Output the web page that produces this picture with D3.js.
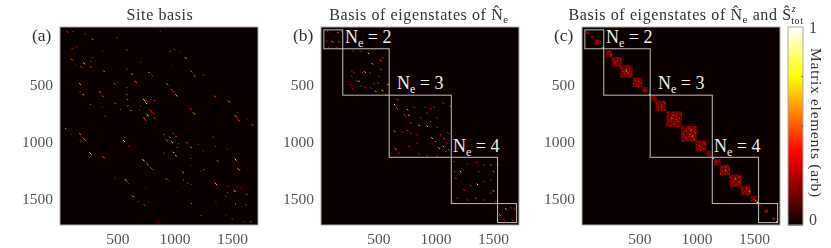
<!doctype html>
<html lang="en">
<head>
<meta charset="utf-8">
<title>Matrix elements</title>
<script src="https://d3js.org/d3.v7.min.js"></script>
<style>
    html, body { margin: 0; padding: 0; background: #fff; }
    svg { display: block; filter: blur(0.45px); font-family: "Liberation Serif", serif; }
    .tick text { font-family: "Liberation Serif", serif; font-size: 15.5px; fill: #555; }
    .axis path { display: none; }
    .title { font-size: 16px; letter-spacing: .6px; fill: #333; text-anchor: middle; }
    .panelTag { font-size: 17.5px; fill: #333; }
    .ne { font-size: 18px; fill: #eee; }
    .frame { fill: none; stroke: #aaa; stroke-width: 1; }
    .sector { fill: none; stroke: #bbb; stroke-width: 1; }
</style>
</head>
<body>
<svg width="831" height="248"></svg>
<script>
// panel (a): site basis, short streaks along the diagonal direction
var aCols = [58,110,218,278,493,870,102,139,368,580,957,992,1044,1090,96,278,203,267,139,180,261,702,980,377,580,620,774,797,1137,1166,1247,168,84,470,499,652,925,965,1006,580,168,197,342,368,580,586,763,1343,1467,725,745,821,261,476,522,365,583,615,702,690,391,754,783,725,740,797,818,1131,1160,1525,1549,1551,1630,1676,46,93,168,197,174,551,592,905,954,986,1006,922,971,1032,1102,1137,1200,1334,1354,1456,1247,1021,905,986,1006,255,371,719,754,783,1140,1140,1369,1525,1554,1549,1638,1067,1224,1253,476,922,951,563,595,1073,1108,1143,1349,1462,1543,1572,1517,1459,1624,1444,632,740,1021,679,766,731,1143,1357,1528,1618,1580,1230,1444,1502,855,1607,1659];
var aRows = [35,35,58,102,88,35,184,169,207,196,210,190,213,263,277,263,310,295,330,342,342,304,336,380,362,403,394,415,380,418,415,490,490,490,479,470,490,540,587,526,558,584,561,599,587,628,604,599,642,628,657,637,672,660,715,695,686,724,686,718,777,759,721,788,806,739,788,707,745,768,747,806,800,850,885,934,926,964,993,987,1034,934,958,926,949,978,999,1016,1007,1045,1019,958,1040,1063,1077,1051,1095,1089,1118,1092,1127,1153,1188,1220,1145,1206,1162,1150,1177,1232,1241,1261,1255,1241,1317,1320,1337,1326,1361,1329,1358,1372,1358,1387,1390,1407,1424,1442,1454,1472,1472,1399,1434,1521,1521,1548,1536,1527,1539,1548,1562,1644,1635,1673,1700,1697,1694];
var aSpans = [16,8,5,12,5,8,5,12,8,8,8,12,8,16,16,8,16,5,5,12,12,5,5,12,8,16,8,16,16,16,12,16,5,12,5,20,20,30,20,8,8,12,16,12,8,8,5,16,16,20,16,8,8,12,8,8,8,8,5,8,5,20,16,20,12,24,16,16,20,24,5,20,8,8,8,8,16,30,8,16,12,8,8,8,12,20,16,5,8,12,8,5,8,5,5,5,8,12,12,20,20,20,20,30,5,5,16,16,5,20,5,16,5,8,8,16,8,24,8,8,12,8,24,5,5,5,16,5,12,8,12,5,5,8,5,12,8,8,5,8,5,5,8,5,8,8,12];
var aLevels = [.4,.45,.6,.5,.6,.4,.55,.35,.35,.6,.5,.35,.35,.6,.5,.4,.7,.6,.5,.5,.5,.5,.35,.6,.5,.5,.7,.4,.5,.5,.4,.6,.3,.5,.6,.5,.5,.4,.6,.5,.4,.65,.5,.5,.7,.6,.4,.5,.6,.7,.7,.5,.5,.5,.5,.4,.65,.7,.6,.4,.7,.9,.5,.5,.5,.4,.5,.4,.6,.5,.6,.5,.4,.7,.7,.4,.5,.5,.6,.75,.4,.5,.7,.5,.5,.5,.7,.4,.7,.6,.5,.7,.4,.5,.5,.6,.5,.7,.7,.7,.5,.7,.5,.4,.6,.4,.5,.7,.5,.6,.4,.55,.6,.5,.4,.5,.4,.55,.4,.5,.4,.4,.6,.5,.4,.4,.7,.6,.5,.4,.7,.35,.4,.4,.4,.5,.5,.4,.9,.5,.4,.65,.4,.7,.4,.4,.5];

// panel (b): basis of eigenstates of Ne
var bCols = [55,143,172,93,44,64,131,151,276,340,410,530,442,515,262,282,378,358,515,262,326,306,253,346,378,500,579,457,492,268,471,530,559,579,422,428,661,637,655,748,719,762,733,806,899,952,981,1062,1126,922,1010,777,864,850,922,704,748,777,637,835,952,1010,1039,1068,1091,963,995,1024,1062,1083,646,675,829,850,922,1010,1112,762,1103,1155,1213,1161,1272,1353,1417,1475,1534,1374,1170,1301,1359,1417,1475,1499,1243,1184,1272,1344,1417,1499,1475,1141,1519,1609,1650,1685,1557,1592,1665,1694];
var bRows = [35,44,35,123,117,175,169,123,204,204,225,263,315,286,380,394,388,394,365,426,467,467,496,511,520,426,496,490,482,531,555,549,584,593,394,526,628,672,701,715,759,765,774,695,695,707,695,657,686,745,788,832,788,853,861,911,899,920,905,934,818,870,934,969,1007,964,993,1051,1037,1080,1060,1095,1007,1104,1115,1124,1066,1037,920,1168,1256,1256,1188,1177,1197,1197,1197,1256,1314,1378,1367,1343,1329,1256,1416,1489,1504,1489,1504,1425,1445,1518,1518,1583,1571,1583,1635,1679,1679,1591];
var bLevels = [.4,.6,.4,.7,.4,.4,.4,.5,.4,.4,.9,.4,.7,.5,.4,.4,.9,.4,.5,.4,.7,.5,.4,.4,.4,.4,.7,.4,.5,.4,.7,.7,.5,.6,.4,.4,.5,.7,.5,.7,.4,.9,.4,.4,.4,.4,.4,.5,.5,.4,.4,.5,.4,.7,.7,.4,.5,.4,.6,.4,.4,.4,.4,.5,.4,.95,.5,.7,.7,.5,.7,.4,.4,.4,.4,.4,.5,.4,.4,.4,.7,.4,.4,.4,.4,.5,.4,.4,.5,.4,.9,.4,.4,.5,.4,.4,.4,.5,.4,.7,.5,.4,.4,.7,.4,.4,.7,.4,.4,.4];

// panel (c): blocks along the diagonal, one digit per cell (tenths of full scale)
var cStarts = [38,80,110,176,207,262,335,443,525,584,603,644,737,865,991,1084,1139,1154,1203,1288,1387,1474,1524,1555,1594,1660,1695];
var cEnds = [62,96,152,188,259,344,440,525,571,596,650,731,871,1000,1084,1125,1151,1206,1291,1393,1469,1521,1536,1568,1622,1682,1708];
var cCells = [
    ["31","13"], ["2"], ["213","141","312"], ["7"], ["2141","1312","3114","1213"],
    ["102130","310213","021402","130121","203102","112031"],
    ["1021301","3102130","0214021","1305120","2031402","0120213","3102031"],
    ["201312","031021","120412","302103","013120","210312"],
    ["2130","0312","2041","1203"], ["8"], ["1302","3141","0213","2103"],
    ["102031","310213","021302","201412","130210","021303"],
    ["2010310201","0312021303","1021403102","3102013021","0215021031","2031204102","1302031420","0210301021","3102140210","1031021302"],
    ["0210312013","3102041021","1031205103","2014021031","0310213024","1302140210","3021031502","0140210321","2013021041","1302103120"],
    ["2031021","0213042","3120103","1041302","2103120","0312041","1203102"],
    ["2130","1312","3021","0213"], ["9"], ["2103","1421","0312","3120"],
    ["102031","031402","210213","130512","021031","310213"],
    ["1021302","3102041","0215102","2031203","1302140","0210312","2103021"],
    ["102031","310412","021203","203105","130213","021031"],
    ["2103","1312","0241","3125"], ["8"], ["2"], ["213","141","312"], ["31","14"], ["9"]
];
var blockFloor = .14;

// sector boxes and their labels
var sectorEdges = [25,190,595,1137,1541,1707];
var neNames = ["2","3","4"];
var neCols = [209,663,1152];
var neRows = [140,541,1091];

var matrixSize = 1728;
var axisTicks = [500,1000,1500];
var panelTags = ["(a)","(b)","(c)"];
var cbarTicks = [0,.25,.5,.75];

var panelLeft = [60,321,582];
var panelTop = 27, panelSize = 198;

// matlab style hot map
var hot = d3.scaleLinear()
    .domain([0,.365,.75,1])
    .range(["#0b0000","#ff0000","#ffff00","#ffffff"])
    .clamp(true);

var svg = d3.select("svg");
var scale = d3.scaleLinear().domain([0,matrixSize]).range([0,panelSize]);

var panels = svg.selectAll("g.panel")
    .data(panelLeft)
    .enter().append("g")
    .attr("class","panel")
    .attr("transform",function(d){ return "translate("+d+","+panelTop+")"; });

panels.append("rect")
    .attr("width",panelSize).attr("height",panelSize)
    .attr("fill",hot(0));

function drawStreaks(g, cols, rows, spans, levels) {
    g.selectAll("line.streak")
        .data(cols)
        .enter().append("line")
        .attr("class","streak")
        .attr("x1",function(d){ return scale(d); })
        .attr("y1",function(d,i){ return scale(rows[i]); })
        .attr("x2",function(d,i){ return scale(d+spans[i]); })
        .attr("y2",function(d,i){ return scale(rows[i]+spans[i]); })
        .attr("stroke",function(d,i){ return hot(levels[i]); })
        .attr("stroke-width",1);
}

drawStreaks(d3.select(panels.nodes()[0]), aCols, aRows, aSpans, aLevels);
drawStreaks(d3.select(panels.nodes()[1]), bCols, bRows, bCols.map(function(){ return 12; }), bLevels);

// blocks of panel c
var gc = d3.select(panels.nodes()[2]);
cCells.forEach(function(rowsOfCell, b) {
    var n = rowsOfCell.length;
    var cell = (cEnds[b]-cStarts[b])/n;
    rowsOfCell.forEach(function(str, j) {
        str.split("").forEach(function(ch, i) {
            gc.append("rect")
                .attr("x",scale(cStarts[b]+i*cell))
                .attr("y",scale(cStarts[b]+j*cell))
                .attr("width",scale(cell)+.1)
                .attr("height",scale(cell)+.1)
                .attr("fill",hot(Math.max(+ch/10,blockFloor)));
        });
    });
});

// sector boxes, panels b and c
[1,2].forEach(function(p) {
    var g = d3.select(panels.nodes()[p]);
    d3.pairs(sectorEdges).forEach(function(e) {
        g.append("rect").attr("class","sector")
            .attr("x",scale(e[0])).attr("y",scale(e[0]))
            .attr("width",scale(e[1]-e[0])).attr("height",scale(e[1]-e[0]));
    });
    neNames.forEach(function(name, i) {
        var t = g.append("text").attr("class","ne")
            .attr("x",scale(neCols[i])).attr("y",scale(neRows[i]));
        t.append("tspan").text("N");
        t.append("tspan").attr("dy",4).attr("font-size",12).text("e");
        t.append("tspan").attr("dy",-4).text(" = "+name);
    });
});

// frame and axes
panels.append("rect").attr("class","frame")
    .attr("width",panelSize).attr("height",panelSize);

panels.append("g").attr("class","axis")
    .attr("transform","translate(0,"+panelSize+")")
    .call(d3.axisBottom(scale).tickValues(axisTicks).tickSize(0).tickPadding(8).tickFormat(d3.format("d")));

panels.append("g").attr("class","axis")
    .call(d3.axisLeft(scale).tickValues(axisTicks).tickSize(0).tickPadding(7).tickFormat(d3.format("d")));

panels.append("text").attr("class","panelTag")
    .attr("x",-28).attr("y",14)
    .text(function(d,i){ return panelTags[i]; });

// titles
svg.append("text").attr("class","title").attr("x",160).attr("y",20).text("Site basis");

var t1 = svg.append("text").attr("class","title").attr("x",419).attr("y",20);
t1.append("tspan").text("Basis of eigenstates of N\u0302");
t1.append("tspan").attr("dy",3).attr("font-size",11).text("e");

var t2 = svg.append("text").attr("class","title").attr("x",686).attr("y",20);
t2.append("tspan").text("Basis of eigenstates of N\u0302");
t2.append("tspan").attr("dy",3).attr("font-size",11).text("e");
t2.append("tspan").attr("dy",-3).text(" and S\u0302");
t2.append("tspan").attr("dy",-8).attr("font-size",10).attr("font-style","italic").text("z");
t2.append("tspan").attr("dy",11.5).attr("dx",-5).attr("font-size",10).text("tot");

// colorbar
var cbarLeft = 788, cbarWidth = 15;
var cbarY = d3.scaleLinear().domain([0,1]).range([panelTop+panelSize,panelTop]);
var cbar = svg.append("g");
cbar.selectAll("rect")
    .data(d3.range(0,1,1/198))
    .enter().append("rect")
    .attr("x",cbarLeft)
    .attr("y",function(d){ return cbarY(d)-1; })
    .attr("width",cbarWidth).attr("height",1.5)
    .attr("fill",function(d){ return hot(d); });
cbar.append("rect").attr("class","frame")
    .attr("x",cbarLeft).attr("y",panelTop)
    .attr("width",cbarWidth).attr("height",panelSize);
cbar.selectAll("line")
    .data(cbarTicks.slice(1))
    .enter().append("line")
    .attr("x1",cbarLeft+cbarWidth-1.5).attr("x2",cbarLeft+cbarWidth)
    .attr("y1",function(d){ return cbarY(d); })
    .attr("y2",function(d){ return cbarY(d); })
    .attr("stroke","#555");
[0,1].forEach(function(v) {
    cbar.append("text").attr("x",809).attr("y",cbarY(v)+(v?6:0))
        .attr("font-size",16).attr("fill","#444").text(v);
});
svg.append("text")
    .attr("transform","translate(811,123) rotate(90)")
    .attr("text-anchor","middle")
    .attr("font-size",15.5).attr("letter-spacing",.7).attr("fill","#333")
    .text("Matrix elements (arb)");
</script>
</body>
</html>
